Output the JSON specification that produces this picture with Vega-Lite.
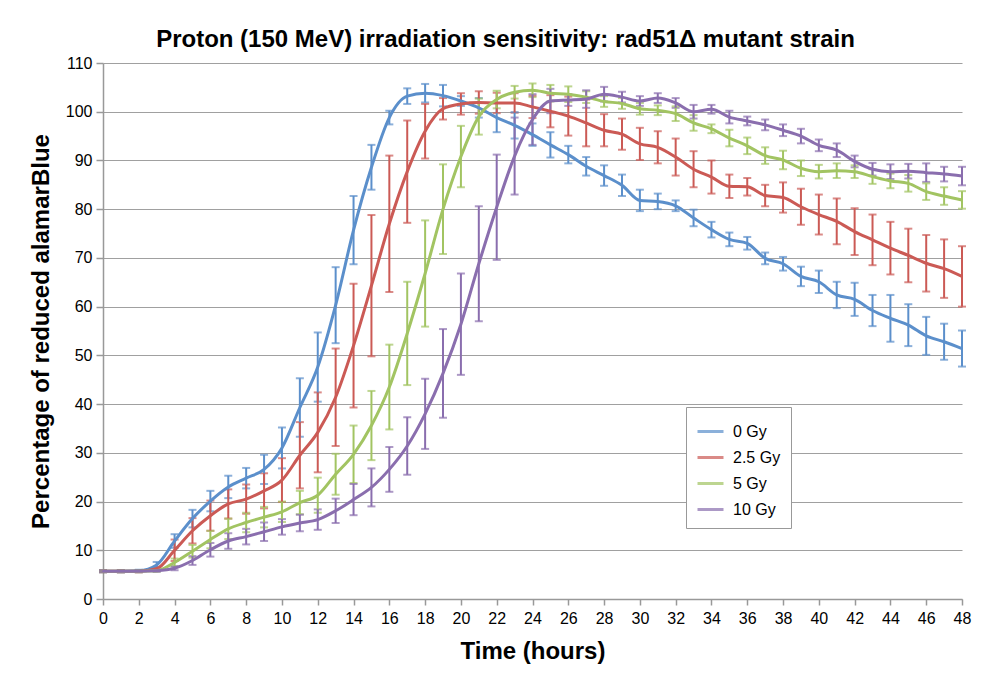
{
  "$schema": "https://vega.github.io/schema/vega-lite/v6.json",
  "autosize": {"type": "none"},
  "padding": {"left": 103, "top": 63, "right": 35, "bottom": 76},
  "width": 859,
  "height": 536,
  "background": "white",
  "title": {
    "text": "Proton (150 MeV) irradiation sensitivity: rad51Δ mutant strain",
    "font": "Liberation Sans",
    "fontSize": 24,
    "fontWeight": "bold",
    "color": "black",
    "anchor": "middle",
    "dx": -27,
    "offset": 3
  },
  "datasets": {
    "d": [
      {"t":0,"dose":"0 Gy","v":5.7,"e":0.2},{"t":1,"dose":"0 Gy","v":5.7,"e":0.2},{"t":2,"dose":"0 Gy","v":5.8,"e":0.2},{"t":3,"dose":"0 Gy","v":7.0,"e":0.6},{"t":4,"dose":"0 Gy","v":11.9,"e":1.4},{"t":5,"dose":"0 Gy","v":16.5,"e":1.8},{"t":6,"dose":"0 Gy","v":20.1,"e":2.1},{"t":7,"dose":"0 Gy","v":23.0,"e":2.3},{"t":8,"dose":"0 Gy","v":24.8,"e":2.1},{"t":9,"dose":"0 Gy","v":26.6,"e":3.0},{"t":10,"dose":"0 Gy","v":31.0,"e":4.2},{"t":11,"dose":"0 Gy","v":39.3,"e":6.0},{"t":12,"dose":"0 Gy","v":47.6,"e":7.1},{"t":13,"dose":"0 Gy","v":60.3,"e":7.8},{"t":14,"dose":"0 Gy","v":75.7,"e":7.0},{"t":15,"dose":"0 Gy","v":88.6,"e":4.6},{"t":16,"dose":"0 Gy","v":98.8,"e":1.4},{"t":17,"dose":"0 Gy","v":103.2,"e":1.6},{"t":18,"dose":"0 Gy","v":103.8,"e":1.9},{"t":19,"dose":"0 Gy","v":103.3,"e":2.2},{"t":20,"dose":"0 Gy","v":102.2,"e":1.0},{"t":21,"dose":"0 Gy","v":100.8,"e":2.0},{"t":22,"dose":"0 Gy","v":98.8,"e":3.0},{"t":23,"dose":"0 Gy","v":97.2,"e":2.7},{"t":24,"dose":"0 Gy","v":95.3,"e":2.3},{"t":25,"dose":"0 Gy","v":93.2,"e":2.6},{"t":26,"dose":"0 Gy","v":91.2,"e":1.8},{"t":27,"dose":"0 Gy","v":88.8,"e":1.9},{"t":28,"dose":"0 Gy","v":86.9,"e":2.1},{"t":29,"dose":"0 Gy","v":84.9,"e":2.2},{"t":30,"dose":"0 Gy","v":81.8,"e":2.2},{"t":31,"dose":"0 Gy","v":81.6,"e":1.6},{"t":32,"dose":"0 Gy","v":80.7,"e":1.1},{"t":33,"dose":"0 Gy","v":78.2,"e":1.7},{"t":34,"dose":"0 Gy","v":75.8,"e":1.6},{"t":35,"dose":"0 Gy","v":73.8,"e":1.4},{"t":36,"dose":"0 Gy","v":73.0,"e":1.3},{"t":37,"dose":"0 Gy","v":69.9,"e":1.2},{"t":38,"dose":"0 Gy","v":68.8,"e":1.4},{"t":39,"dose":"0 Gy","v":66.2,"e":2.0},{"t":40,"dose":"0 Gy","v":65.1,"e":2.3},{"t":41,"dose":"0 Gy","v":62.4,"e":2.7},{"t":42,"dose":"0 Gy","v":61.5,"e":3.4},{"t":43,"dose":"0 Gy","v":59.2,"e":3.2},{"t":44,"dose":"0 Gy","v":57.6,"e":4.8},{"t":45,"dose":"0 Gy","v":56.2,"e":4.3},{"t":46,"dose":"0 Gy","v":54.0,"e":3.9},{"t":47,"dose":"0 Gy","v":52.8,"e":3.7},{"t":48,"dose":"0 Gy","v":51.4,"e":3.7},
      {"t":0,"dose":"2.5 Gy","v":5.7,"e":0.2},{"t":1,"dose":"2.5 Gy","v":5.7,"e":0.2},{"t":2,"dose":"2.5 Gy","v":5.7,"e":0.2},{"t":3,"dose":"2.5 Gy","v":6.2,"e":0.4},{"t":4,"dose":"2.5 Gy","v":10.0,"e":2.2},{"t":5,"dose":"2.5 Gy","v":14.0,"e":2.6},{"t":6,"dose":"2.5 Gy","v":17.1,"e":3.1},{"t":7,"dose":"2.5 Gy","v":19.5,"e":3.0},{"t":8,"dose":"2.5 Gy","v":20.5,"e":3.0},{"t":9,"dose":"2.5 Gy","v":22.2,"e":3.6},{"t":10,"dose":"2.5 Gy","v":24.4,"e":4.5},{"t":11,"dose":"2.5 Gy","v":29.5,"e":6.8},{"t":12,"dose":"2.5 Gy","v":34.2,"e":8.2},{"t":13,"dose":"2.5 Gy","v":41.4,"e":10.0},{"t":14,"dose":"2.5 Gy","v":52.0,"e":12.7},{"t":15,"dose":"2.5 Gy","v":64.3,"e":14.5},{"t":16,"dose":"2.5 Gy","v":77.0,"e":14.0},{"t":17,"dose":"2.5 Gy","v":87.7,"e":10.5},{"t":18,"dose":"2.5 Gy","v":96.0,"e":5.6},{"t":19,"dose":"2.5 Gy","v":100.6,"e":2.2},{"t":20,"dose":"2.5 Gy","v":101.6,"e":2.2},{"t":21,"dose":"2.5 Gy","v":101.9,"e":2.3},{"t":22,"dose":"2.5 Gy","v":101.8,"e":2.1},{"t":23,"dose":"2.5 Gy","v":101.8,"e":2.0},{"t":24,"dose":"2.5 Gy","v":101.0,"e":2.3},{"t":25,"dose":"2.5 Gy","v":100.1,"e":3.3},{"t":26,"dose":"2.5 Gy","v":99.1,"e":4.0},{"t":27,"dose":"2.5 Gy","v":97.7,"e":4.8},{"t":28,"dose":"2.5 Gy","v":96.2,"e":3.3},{"t":29,"dose":"2.5 Gy","v":95.4,"e":3.2},{"t":30,"dose":"2.5 Gy","v":93.4,"e":3.3},{"t":31,"dose":"2.5 Gy","v":92.7,"e":3.3},{"t":32,"dose":"2.5 Gy","v":90.7,"e":3.8},{"t":33,"dose":"2.5 Gy","v":88.2,"e":3.7},{"t":34,"dose":"2.5 Gy","v":86.6,"e":3.4},{"t":35,"dose":"2.5 Gy","v":84.7,"e":2.4},{"t":36,"dose":"2.5 Gy","v":84.6,"e":1.8},{"t":37,"dose":"2.5 Gy","v":82.8,"e":2.2},{"t":38,"dose":"2.5 Gy","v":82.4,"e":3.1},{"t":39,"dose":"2.5 Gy","v":80.5,"e":3.7},{"t":40,"dose":"2.5 Gy","v":78.9,"e":4.1},{"t":41,"dose":"2.5 Gy","v":77.5,"e":4.7},{"t":42,"dose":"2.5 Gy","v":75.4,"e":4.8},{"t":43,"dose":"2.5 Gy","v":73.7,"e":5.2},{"t":44,"dose":"2.5 Gy","v":72.0,"e":5.4},{"t":45,"dose":"2.5 Gy","v":70.5,"e":5.5},{"t":46,"dose":"2.5 Gy","v":68.9,"e":5.8},{"t":47,"dose":"2.5 Gy","v":67.8,"e":6.0},{"t":48,"dose":"2.5 Gy","v":66.2,"e":6.2},
      {"t":0,"dose":"5 Gy","v":5.7,"e":0.2},{"t":1,"dose":"5 Gy","v":5.7,"e":0.2},{"t":2,"dose":"5 Gy","v":5.7,"e":0.2},{"t":3,"dose":"5 Gy","v":5.8,"e":0.2},{"t":4,"dose":"5 Gy","v":7.5,"e":0.8},{"t":5,"dose":"5 Gy","v":9.8,"e":1.3},{"t":6,"dose":"5 Gy","v":12.2,"e":1.8},{"t":7,"dose":"5 Gy","v":14.4,"e":2.1},{"t":8,"dose":"5 Gy","v":15.7,"e":2.0},{"t":9,"dose":"5 Gy","v":16.8,"e":2.1},{"t":10,"dose":"5 Gy","v":17.9,"e":2.1},{"t":11,"dose":"5 Gy","v":19.8,"e":2.4},{"t":12,"dose":"5 Gy","v":21.3,"e":3.6},{"t":13,"dose":"5 Gy","v":25.6,"e":4.2},{"t":14,"dose":"5 Gy","v":29.7,"e":5.9},{"t":15,"dose":"5 Gy","v":35.6,"e":7.1},{"t":16,"dose":"5 Gy","v":43.5,"e":8.7},{"t":17,"dose":"5 Gy","v":54.5,"e":10.6},{"t":18,"dose":"5 Gy","v":66.8,"e":10.9},{"t":19,"dose":"5 Gy","v":80.0,"e":9.2},{"t":20,"dose":"5 Gy","v":90.8,"e":6.3},{"t":21,"dose":"5 Gy","v":99.0,"e":3.7},{"t":22,"dose":"5 Gy","v":102.5,"e":1.8},{"t":23,"dose":"5 Gy","v":104.0,"e":1.3},{"t":24,"dose":"5 Gy","v":104.4,"e":1.4},{"t":25,"dose":"5 Gy","v":103.8,"e":1.7},{"t":26,"dose":"5 Gy","v":103.6,"e":1.6},{"t":27,"dose":"5 Gy","v":103.0,"e":1.2},{"t":28,"dose":"5 Gy","v":102.1,"e":1.1},{"t":29,"dose":"5 Gy","v":101.7,"e":1.1},{"t":30,"dose":"5 Gy","v":100.6,"e":1.2},{"t":31,"dose":"5 Gy","v":100.3,"e":1.0},{"t":32,"dose":"5 Gy","v":99.6,"e":1.5},{"t":33,"dose":"5 Gy","v":97.7,"e":1.6},{"t":34,"dose":"5 Gy","v":96.5,"e":0.9},{"t":35,"dose":"5 Gy","v":94.6,"e":1.7},{"t":36,"dose":"5 Gy","v":93.0,"e":1.7},{"t":37,"dose":"5 Gy","v":91.0,"e":1.7},{"t":38,"dose":"5 Gy","v":90.1,"e":1.9},{"t":39,"dose":"5 Gy","v":88.4,"e":1.6},{"t":40,"dose":"5 Gy","v":87.7,"e":1.4},{"t":41,"dose":"5 Gy","v":87.9,"e":1.5},{"t":42,"dose":"5 Gy","v":87.7,"e":1.3},{"t":43,"dose":"5 Gy","v":86.7,"e":1.5},{"t":44,"dose":"5 Gy","v":85.8,"e":1.5},{"t":45,"dose":"5 Gy","v":85.3,"e":1.7},{"t":46,"dose":"5 Gy","v":83.6,"e":1.7},{"t":47,"dose":"5 Gy","v":82.7,"e":1.8},{"t":48,"dose":"5 Gy","v":81.9,"e":1.8},
      {"t":0,"dose":"10 Gy","v":5.7,"e":0.2},{"t":1,"dose":"10 Gy","v":5.7,"e":0.2},{"t":2,"dose":"10 Gy","v":5.7,"e":0.2},{"t":3,"dose":"10 Gy","v":5.8,"e":0.2},{"t":4,"dose":"10 Gy","v":6.3,"e":0.4},{"t":5,"dose":"10 Gy","v":7.9,"e":0.9},{"t":6,"dose":"10 Gy","v":10.1,"e":1.4},{"t":7,"dose":"10 Gy","v":11.9,"e":1.6},{"t":8,"dose":"10 Gy","v":12.8,"e":1.6},{"t":9,"dose":"10 Gy","v":13.8,"e":1.9},{"t":10,"dose":"10 Gy","v":14.8,"e":1.6},{"t":11,"dose":"10 Gy","v":15.6,"e":1.7},{"t":12,"dose":"10 Gy","v":16.3,"e":2.1},{"t":13,"dose":"10 Gy","v":18.1,"e":2.5},{"t":14,"dose":"10 Gy","v":20.4,"e":3.2},{"t":15,"dose":"10 Gy","v":22.9,"e":3.9},{"t":16,"dose":"10 Gy","v":26.6,"e":4.6},{"t":17,"dose":"10 Gy","v":31.4,"e":5.9},{"t":18,"dose":"10 Gy","v":38.0,"e":7.2},{"t":19,"dose":"10 Gy","v":46.3,"e":9.1},{"t":20,"dose":"10 Gy","v":56.4,"e":10.4},{"t":21,"dose":"10 Gy","v":68.8,"e":11.8},{"t":22,"dose":"10 Gy","v":80.4,"e":10.8},{"t":23,"dose":"10 Gy","v":90.9,"e":7.9},{"t":24,"dose":"10 Gy","v":98.4,"e":5.2},{"t":25,"dose":"10 Gy","v":102.2,"e":2.5},{"t":26,"dose":"10 Gy","v":102.4,"e":1.2},{"t":27,"dose":"10 Gy","v":102.6,"e":1.8},{"t":28,"dose":"10 Gy","v":103.6,"e":1.5},{"t":29,"dose":"10 Gy","v":103.0,"e":1.1},{"t":30,"dose":"10 Gy","v":102.2,"e":1.0},{"t":31,"dose":"10 Gy","v":102.8,"e":1.0},{"t":32,"dose":"10 Gy","v":101.8,"e":1.0},{"t":33,"dose":"10 Gy","v":100.0,"e":1.4},{"t":34,"dose":"10 Gy","v":100.5,"e":0.9},{"t":35,"dose":"10 Gy","v":98.9,"e":1.3},{"t":36,"dose":"10 Gy","v":98.1,"e":0.9},{"t":37,"dose":"10 Gy","v":97.3,"e":1.1},{"t":38,"dose":"10 Gy","v":96.2,"e":1.2},{"t":39,"dose":"10 Gy","v":95.0,"e":1.5},{"t":40,"dose":"10 Gy","v":93.1,"e":1.2},{"t":41,"dose":"10 Gy","v":92.1,"e":1.4},{"t":42,"dose":"10 Gy","v":89.8,"e":1.2},{"t":43,"dose":"10 Gy","v":88.2,"e":1.3},{"t":44,"dose":"10 Gy","v":87.7,"e":1.5},{"t":45,"dose":"10 Gy","v":87.8,"e":1.5},{"t":46,"dose":"10 Gy","v":87.5,"e":1.9},{"t":47,"dose":"10 Gy","v":87.2,"e":1.5},{"t":48,"dose":"10 Gy","v":86.8,"e":1.9}
    ]
  },
  "data": {"name": "d"},
  "encoding": {
    "x": {
      "field": "t", "type": "quantitative",
      "scale": {"domain": [0, 48], "nice": false, "zero": false},
      "axis": {
        "title": "Time (hours)",
        "values": [0,2,4,6,8,10,12,14,16,18,20,22,24,26,28,30,32,34,36,38,40,42,44,46,48],
        "grid": false,
        "labelFlush": false,
        "tickSize": 6,
        "labelPadding": 5,
        "titlePadding": 13
      }
    },
    "y": {
      "field": "v", "type": "quantitative",
      "scale": {"domain": [0, 110], "nice": false},
      "axis": {
        "title": "Percentage of reduced alamarBlue",
        "values": [0,10,20,30,40,50,60,70,80,90,100,110],
        "grid": true,
        "tickSize": 7,
        "labelPadding": 4,
        "titlePadding": 12
      }
    },
    "color": {
      "field": "dose", "type": "nominal",
      "scale": {
        "domain": ["0 Gy", "2.5 Gy", "5 Gy", "10 Gy"],
        "range": ["#5B8FCB", "#CB5A55", "#A2C462", "#8A6EAE"]
      },
      "legend": {
        "orient": "none",
        "legendX": 583,
        "legendY": 344,
        "title": null,
        "symbolType": "stroke"
      }
    }
  },
  "layer": [
    {
      "mark": {"type": "errorbar", "ticks": {"size": 8, "thickness": 2}, "thickness": 2},
      "encoding": {
        "yError": {"field": "e"}
      }
    },
    {
      "mark": {"type": "line", "interpolate": "monotone", "strokeWidth": 3}
    }
  ],
  "config": {
    "view": {"stroke": null},
    "axis": {
      "labelFont": "Liberation Sans",
      "labelFontSize": 16,
      "labelColor": "black",
      "titleFont": "Liberation Sans",
      "titleFontSize": 24,
      "titleFontWeight": "bold",
      "titleColor": "black",
      "domainColor": "#999999",
      "tickColor": "#999999",
      "gridColor": "#A0A0A0",
      "domainWidth": 1.5,
      "tickWidth": 1.5,
      "gridWidth": 1.2
    },
    "legend": {
      "fillColor": "white",
      "strokeColor": "#999999",
      "padding": 10,
      "labelFont": "Liberation Sans",
      "labelFontSize": 16,
      "labelColor": "black",
      "symbolSize": 676,
      "symbolStrokeWidth": 3,
      "labelOffset": 8,
      "rowPadding": 3
    }
  }
}
